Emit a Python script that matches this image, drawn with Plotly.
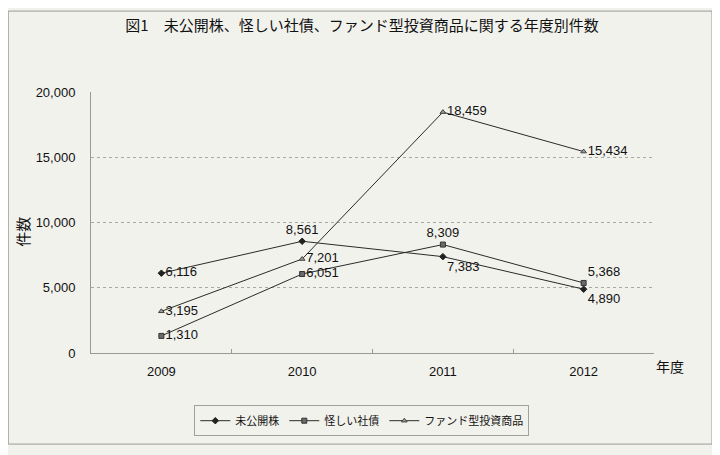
import plotly.graph_objects as go

# 年度別件数
years = ["2009", "2010", "2011", "2012"]
mikokai = [6116, 8561, 7383, 4890]
ayashii = [1310, 6051, 8309, 5368]
fund = [3195, 7201, 18459, 15434]

series_names = ["未公開株", "怪しい社債", "ファンド型投資商品"]
label_pos = [
    ["middle right", "top center", "bottom right", "bottom right"],
    ["middle right", "middle right", "top center", "top right"],
    ["middle right", "middle right", "middle right", "middle right"],
]
y_ticks = [0, 5000, 10000, 15000, 20000]

FONT = "Liberation Sans, Noto Sans CJK JP, sans-serif"
JP = "Noto Sans CJK JP, sans-serif"
BG = "#f2f2ed"

# the page body adds an 8px margin, so the figure is drawn 8px smaller
W, H = 712, 447

fig = go.Figure()

styles = [
    dict(symbol="diamond", size=5, color="#222222", line=dict(color="#222222", width=1)),
    dict(symbol="square", size=5, color="#6a6a6a", line=dict(color="#333333", width=1)),
    dict(symbol="triangle-up", size=5, color="#9a9a9a", line=dict(color="#444444", width=1)),
]

for name, vals, pos, mk in zip(series_names, [mikokai, ayashii, fund], label_pos, styles):
    fig.add_trace(go.Scatter(
        x=years,
        y=vals,
        name=name,
        mode="lines+markers+text",
        text=[f"{v:,}" for v in vals],
        textposition=pos,
        textfont=dict(family=FONT, size=13, color="#111111"),
        line=dict(color="#2a2a2a", width=1),
        marker=mk,
        cliponaxis=False,
    ))

fig.update_layout(
    width=W,
    height=H,
    margin=dict(l=83, r=66, t=84, b=102),
    paper_bgcolor=BG,
    plot_bgcolor=BG,
    font=dict(family=JP, color="#111111"),
    title=dict(
        text="図1　未公開株、怪しい社債、ファンド型投資商品に関する年度別件数",
        x=354 / W, xanchor="center",
        y=1 - 18 / H, yanchor="middle",
        font=dict(family=JP, size=15, color="#111111"),
    ),
    showlegend=True,
    legend=dict(
        orientation="h",
        x=0.481, xanchor="center",
        y=-0.2, yanchor="top",
        bordercolor="#a0a0a0",
        borderwidth=1,
        bgcolor=BG,
        font=dict(family=JP, size=11, color="#111111"),
    ),
    xaxis=dict(
        range=[-0.5, 3.5],
        showgrid=False,
        showline=True,
        linecolor="#999999",
        linewidth=1,
        ticks="inside",
        tickson="boundaries",
        ticklen=4,
        tickcolor="#999999",
        ticklabelstandoff=6,
        tickfont=dict(family=FONT, size=13, color="#111111"),
        zeroline=False,
    ),
    yaxis=dict(
        range=[0, 20000],
        tickvals=y_ticks,
        ticktext=[f"{v:,}" for v in y_ticks],
        showgrid=True,
        gridcolor="#a8a8a8",
        griddash="dot",
        gridwidth=1,
        showline=True,
        linecolor="#999999",
        linewidth=1,
        ticks="",
        ticklabelstandoff=12,
        tickfont=dict(family=FONT, size=13, color="#111111"),
        zeroline=False,
    ),
)

# 軸ラベル
fig.add_annotation(
    text="件数", x=-0.121, y=0.464, xref="paper", yref="paper",
    xanchor="center", yanchor="middle",
    textangle=-90, showarrow=False, font=dict(family=JP, size=15, color="#111111"),
)
fig.add_annotation(
    text="年度", x=1.0, y=-0.05, xref="paper", yref="paper",
    xanchor="left", yanchor="middle", showarrow=False,
    font=dict(family=JP, size=14, color="#111111"),
)

# 外枠
fig.add_shape(
    type="rect", xref="paper", yref="paper",
    x0=-0.147, x1=1.103, y0=-0.349, y1=1.31,
    line=dict(color="#9a9a9a", width=1), layer="below",
)

fig.write_html("out.html")
